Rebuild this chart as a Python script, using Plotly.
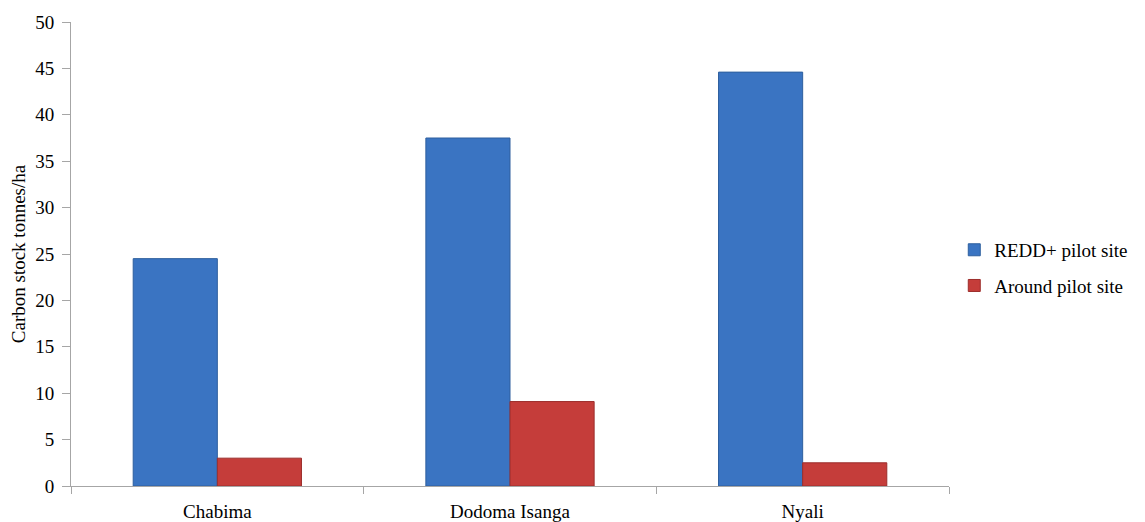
import plotly.graph_objects as go

sites = ["Chabima", "Dodoma Isanga", "Nyali"]
redd_pilot = [24.5, 37.5, 44.6]
around_pilot = [3.0, 9.1, 2.5]
y_ticks = list(range(0, 51, 5))

fig = go.Figure()
fig.add_trace(go.Bar(
    x=sites, y=redd_pilot, name="REDD+ pilot site", legendgroup="a",
    marker=dict(color="#3a74c2", line=dict(color="#2e5f9e", width=1)),
))
fig.add_trace(go.Bar(
    x=sites, y=around_pilot, name="Around pilot site", legendgroup="b",
    marker=dict(color="#c53d3a", line=dict(color="#9c2e2c", width=1)),
))

fig.update_layout(
    width=1145, height=522,
    margin=dict(l=71, r=196, t=22, b=36),
    paper_bgcolor="white", plot_bgcolor="white",
    barmode="group", bargap=0.425, bargroupgap=0,
    font=dict(family="Liberation Serif", size=19, color="black"),
    legend=dict(x=1.006, y=0.47, xanchor="left", yanchor="middle",
                font=dict(size=19), tracegroupgap=8, itemwidth=30),
    xaxis=dict(
        showline=True, linecolor="#a6a6a6", linewidth=1,
        ticks="outside", tickson="boundaries", ticklen=7, tickcolor="#a6a6a6",
        showgrid=False, ticklabelstandoff=8, automargin=False,
    ),
    yaxis=dict(
        range=[0, 50], tickvals=y_ticks,
        showline=True, linecolor="#a6a6a6", linewidth=1,
        ticks="outside", ticklen=8, tickcolor="#a6a6a6",
        showgrid=False, zeroline=False, automargin=False,
        ticklabelstandoff=4,
        title=dict(text="Carbon stock tonnes/ha", standoff=4, font=dict(size=19)),
    ),
)

fig.write_html("out.html")
